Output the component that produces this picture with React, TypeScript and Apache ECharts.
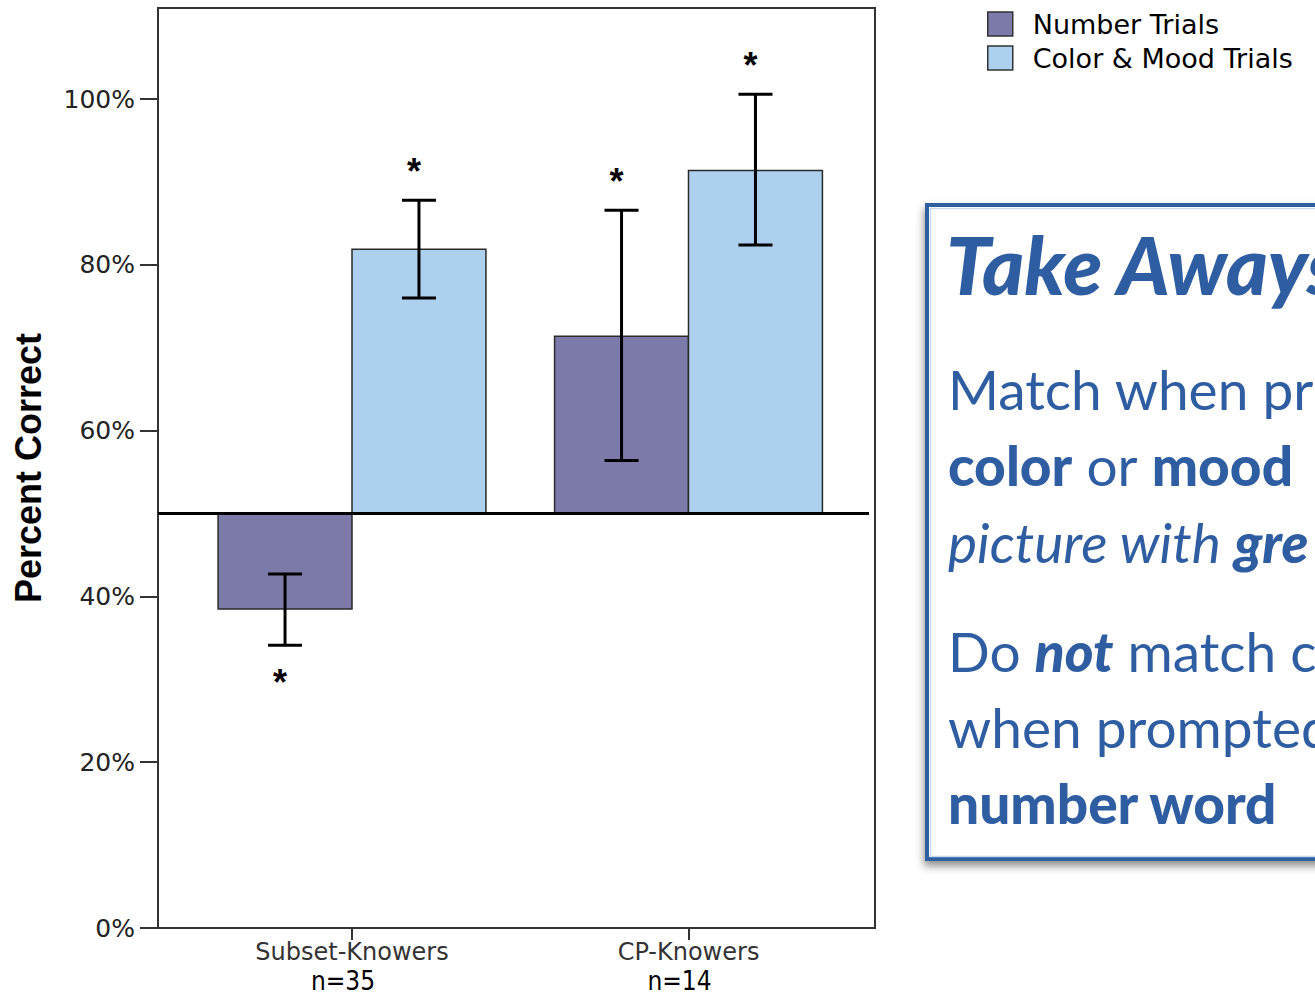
import React, { useEffect, useRef } from "react";
import * as echarts from "echarts";

// ---------- data ----------
const categories = ["Subset-Knowers", "CP-Knowers"];
const sampleSizes = ["n=35", "n=14"];
const seriesNames = ["Number Trials", "Color & Mood Trials"];

const numberMeans = [38.5, 71.4];
const numberLow = [34.1, 56.4];
const numberHigh = [42.7, 86.6];
const numberSignificant = [1, 1];

const colorMeans = [81.9, 91.4];
const colorLow = [76.0, 82.4];
const colorHigh = [87.8, 100.6];
const colorSignificant = [1, 1];

const chanceLevel = 50;
const yMin = 0;
const yMax = 111;
const yTickValues = [0, 20, 40, 60, 80, 100];

const takeAwayTitle = "Take Aways";
const takeAwayLines = [
  "Match when pr",
  "{b|color} or {b|mood}",
  "{i|picture with }{bi|gre}",
  "Do {bi|not} match c",
  "when prompted",
  "{b|number word}",
];

// ---------- styles ----------
const NUMBER_COLOR = "#7b7aa8";
const COLOR_COLOR = "#add0ee";
const BLUE = "#2e5ea1";
const SANS = "'DejaVu Sans', sans-serif";
const ARIAL = "'Liberation Sans', Arial, sans-serif";
const LATO = "Lato, 'Noto Sans', sans-serif";

function makeBarRenderer(side: number) {
  return (params: any, api: any) => {
    const cat = api.value(0);
    const mean = api.value(1);
    const low = api.value(2);
    const high = api.value(3);
    const sig = api.value(4);
    const band = api.size([1, 0])[0];
    const w = band * 0.398;
    const base = api.coord([cat, chanceLevel]);
    const x0 = base[0] + (side === 0 ? -w : 0);
    const yBase = base[1];
    const yMean = api.coord([cat, mean])[1];
    const yLow = api.coord([cat, low])[1];
    const yHigh = api.coord([cat, high])[1];
    const cx = x0 + w / 2;
    const capHalf = 17;
    const children: any[] = [
      {
        type: "rect",
        shape: { x: x0, y: Math.min(yBase, yMean), width: w, height: Math.abs(yMean - yBase) },
        style: { fill: api.visual("color"), stroke: "#2a2a2a", lineWidth: 1.5 },
      },
      { type: "line", shape: { x1: cx, y1: yLow, x2: cx, y2: yHigh }, style: { stroke: "#000", lineWidth: 3 } },
      { type: "line", shape: { x1: cx - capHalf, y1: yLow, x2: cx + capHalf, y2: yLow }, style: { stroke: "#000", lineWidth: 3 } },
      { type: "line", shape: { x1: cx - capHalf, y1: yHigh, x2: cx + capHalf, y2: yHigh }, style: { stroke: "#000", lineWidth: 3 } },
    ];
    if (sig) {
      const above = mean >= chanceLevel;
      children.push({
        type: "text",
        style: {
          text: "*",
          x: cx - 5,
          y: above ? yHigh - 29 : yLow + 37,
          align: "center",
          verticalAlign: "middle",
          fontSize: 36,
          fontWeight: "bold",
          fontFamily: ARIAL,
          fill: "#000",
        },
      });
    }
    return { type: "group", children };
  };
}

export default function App() {
  const ref = useRef<HTMLDivElement>(null);

  useEffect(() => {
    document.body.style.margin = "0";
    if (!ref.current) return;
    const chart = echarts.init(ref.current, undefined, { renderer: "svg" });

    const numberData = categories.map((_, i) => [i, numberMeans[i], numberLow[i], numberHigh[i], numberSignificant[i]]);
    const colorData = categories.map((_, i) => [i, colorMeans[i], colorLow[i], colorHigh[i], colorSignificant[i]]);

    const richLine = {
      b: { fontFamily: LATO, fontSize: 55, fontWeight: 900, fill: BLUE },
      i: { fontFamily: LATO, fontSize: 55, fontStyle: "italic", fill: BLUE },
      bi: { fontFamily: LATO, fontSize: 55, fontWeight: 900, fontStyle: "italic", fill: BLUE },
    };
    const lineYs = [389, 465, 542, 651, 727, 803];

    chart.setOption({
      animation: false,
      backgroundColor: "#fff",
      grid: [
        { left: 158, right: 440, top: 8, bottom: 68, show: true, borderColor: "#333", borderWidth: 2, backgroundColor: "transparent" },
        { left: 183.75, width: 673, top: 8, bottom: 68 },
      ],
      legend: {
        data: seriesNames,
        orient: "vertical",
        left: 982,
        top: 5,
        itemWidth: 25,
        itemHeight: 24,
        itemGap: 6,
        icon: "rect",
        itemStyle: { borderColor: "#333", borderWidth: 1.5 },
        textStyle: { fontFamily: SANS, fontSize: 27, color: "#000", padding: [0, 0, 0, 15], lineHeight: 28 },
      },
      xAxis: [
        { type: "value", gridIndex: 0, min: 0, max: 1, show: false },
        {
          type: "category",
          gridIndex: 1,
          data: categories,
          axisLine: { show: false },
          axisTick: { show: true, alignWithLabel: true, length: 12, lineStyle: { color: "#333", width: 2 } },
          axisLabel: {
            margin: 10,
            interval: 0,
            formatter: (v: string, i: number) => `{a|${v}}\n{b|${sampleSizes[i]}}`,
            rich: {
              a: { fontFamily: SANS, fontSize: 24, color: "#333", lineHeight: 28, align: "center" },
              b: { fontFamily: "'DejaVu Sans Condensed', 'Liberation Sans Narrow', sans-serif", fontSize: 26, color: "#000", lineHeight: 30, align: "center", padding: [0, 18, 0, 0] },
            },
          },
        },
      ],
      yAxis: [
        {
          type: "value",
          gridIndex: 0,
          min: yMin,
          max: yMax,
          name: "Percent Correct",
          nameLocation: "middle",
          nameRotate: 90,
          nameGap: 112,
          nameTextStyle: { fontFamily: ARIAL, fontSize: 36, fontWeight: "bold", color: "#000" },
          axisLine: { show: false },
          axisTick: { show: true, length: 18, customValues: yTickValues, lineStyle: { color: "#333", width: 2 } },
          axisLabel: { margin: 23, customValues: yTickValues, fontFamily: SANS, fontSize: 25, color: "#222", formatter: "{value}%" },
          splitLine: { show: false },
        },
        { type: "value", gridIndex: 1, min: yMin, max: yMax, show: false },
      ],
      series: [
        {
          type: "custom",
          name: seriesNames[0],
          xAxisIndex: 1,
          yAxisIndex: 1,
          itemStyle: { color: NUMBER_COLOR, borderColor: "#333", borderWidth: 1.5 },
          renderItem: makeBarRenderer(0),
          encode: { x: 0, y: [1, 2, 3] },
          data: numberData,
          z: 2,
        },
        {
          type: "custom",
          name: seriesNames[1],
          xAxisIndex: 1,
          yAxisIndex: 1,
          itemStyle: { color: COLOR_COLOR, borderColor: "#333", borderWidth: 1.5 },
          renderItem: makeBarRenderer(1),
          encode: { x: 0, y: [1, 2, 3] },
          data: colorData,
          z: 2,
        },
        {
          type: "custom",
          name: "chance",
          xAxisIndex: 0,
          yAxisIndex: 0,
          silent: true,
          z: 5,
          renderItem: (params: any, api: any) => {
            const cs = params.coordSys;
            const y = api.coord([0, api.value(1)])[1];
            return {
              type: "line",
              shape: { x1: cs.x, y1: y, x2: cs.x + cs.width - 6, y2: y },
              style: { stroke: "#000", lineWidth: 3 },
            };
          },
          encode: { x: 0, y: 1 },
          data: [[0, chanceLevel]],
        },
      ],
      graphic: [
        {
          type: "rect",
          left: 925,
          top: 203,
          shape: { x: 0, y: 0, width: 500, height: 654 },
          style: {
            fill: "#fff",
            stroke: BLUE,
            lineWidth: 4,
            shadowBlur: 8,
            shadowOffsetY: 5,
            shadowOffsetX: -1,
            shadowColor: "rgba(0,0,0,0.45)",
          },
          z: 10,
        },
        {
          type: "rect",
          left: 928,
          top: 206,
          shape: { x: 0, y: 0, width: 500, height: 648 },
          style: { fill: "none", stroke: "#c9d9ef", lineWidth: 1.5 },
          z: 11,
        },
        {
          type: "text",
          x: 946,
          y: 264,
          z: 12,
          style: {
            text: takeAwayTitle,
            fontFamily: LATO,
            fontSize: 80,
            fontWeight: 900,
            fontStyle: "italic",
            fill: BLUE,
            verticalAlign: "middle",
          },
        },
        ...takeAwayLines.map((t, i) => ({
          type: "text",
          x: 948,
          y: lineYs[i],
          z: 12,
          style: {
            text: t,
            fontFamily: LATO,
            fontSize: 55,
            fill: BLUE,
            verticalAlign: "middle",
            rich: richLine,
          },
        })),
      ],
    });

    return () => chart.dispose();
  }, []);

  return (
    <div
      ref={ref}
      style={{ position: "fixed", left: 0, top: 0, width: 1315, height: 996, background: "#fff" }}
    />
  );
}
